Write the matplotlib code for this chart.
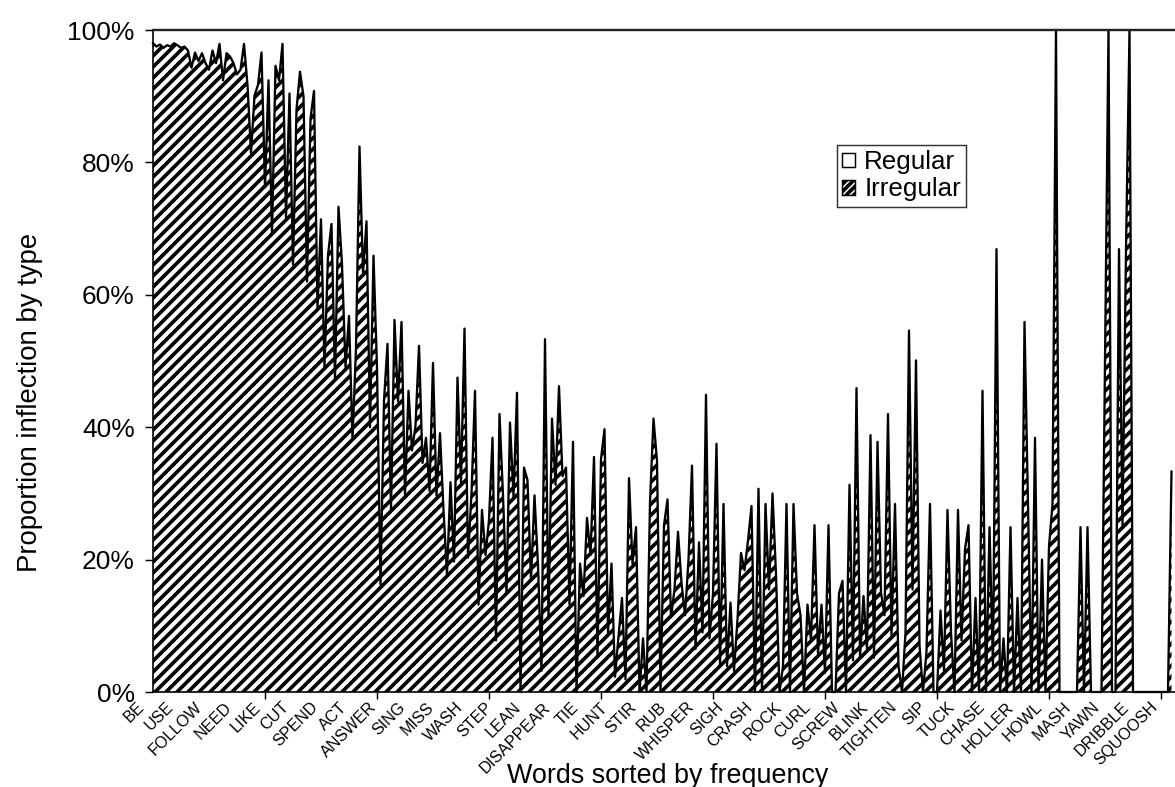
import numpy as np
import matplotlib.pyplot as plt
from matplotlib.patches import Patch
from matplotlib.transforms import ScaledTranslation

plt.rcParams['font.family'] = ['Liberation Sans', 'DejaVu Sans']
plt.rcParams['hatch.color'] = 'black'
plt.rcParams['hatch.linewidth'] = 2.0

DPI = 132
W, H = 1175, 787

# words labelled on the x axis (evenly spread over the frequency list)
labels = ["BE", "USE", "FOLLOW", "NEED", "LIKE", "CUT", "SPEND", "ACT",
          "ANSWER", "SING", "MISS", "WASH", "STEP", "LEAN", "DISAPPEAR",
          "TIE", "HUNT", "STIR", "RUB", "WHISPER", "SIGH", "CRASH", "ROCK",
          "CURL", "SCREW", "BLINK", "TIGHTEN", "SIP", "TUCK", "CHASE",
          "HOLLER", "HOWL", "MASH", "YAWN", "DRIBBLE", "SQUOOSH"]
label_step = 8.275   # words between two labels
tick_step = 32       # words between two tick marks

# proportion of irregular inflection per word (%)
irregular = [
    98.0, 97.5, 97.8, 97.3, 97.7, 97.5, 98.0, 97.7, 97.3, 97.5,
    96.9, 94.3, 96.6, 95.3, 96.5, 95.0, 94.0, 96.9, 95.0, 97.9,
    92.4, 96.5, 96.0, 95.0, 93.3, 94.0, 97.9, 91.7, 81.4, 90.1,
    91.7, 96.6, 76.2, 92.4, 69.1, 94.6, 92.4, 97.9, 71.7, 90.4,
    64.6, 88.0, 93.7, 90.0, 62.0, 86.6, 90.8, 58.1,
    71.4, 49.1, 66.0, 70.7, 47.2, 73.3, 64.6, 49.1, 56.8, 38.1,
    52.0, 82.4, 63.3, 71.1, 40.0, 65.9, 49.0, 16.2, 44.0, 52.6,
    27.5, 56.2, 43.9, 55.9, 29.7, 45.5, 36.5, 40.2, 52.3, 34.6,
    38.4, 30.4, 49.7, 29.7, 39.1, 27.5, 17.8, 31.7, 19.7, 47.5,
    31.7, 54.9, 20.3, 30.0, 45.5, 13.2, 27.5,
    20.7, 26.0, 38.4, 7.8, 42.0, 29.7, 14.9, 40.7, 29.5, 45.2,
    0.0, 33.9, 32.0, 16.8, 29.7, 19.1, 3.2, 53.3, 11.0, 41.3,
    31.3, 46.2, 32.6, 33.9, 13.2, 37.8, 0.0, 19.4, 14.5, 26.3,
    20.7, 35.5, 5.5, 35.2, 39.7, 9.0, 19.4, 2.3, 8.4, 14.2, 1.9, 32.3,
    19.4, 24.9, 0.0, 8.1, 0.0, 28.7, 41.3, 34.9, 0.0, 25.2,
    29.1, 11.3, 15.5, 24.2, 16.5, 11.6, 20.0, 34.2, 6.5, 22.6,
    9.0, 44.9, 8.1, 14.9, 37.5, 3.9, 28.4, 3.9, 13.5, 3.2,
    11.0, 21.0, 18.4, 22.9, 28.1, 0.0, 30.7, 0.0, 28.4, 15.5,
    30.0, 17.8, 0.0, 3.9, 28.4, 0.0, 28.4, 14.9, 11.6, 0.0,
    13.2, 7.8, 25.2, 5.8, 13.2, 2.9, 25.2, 0.0,
    0.0, 14.9, 16.8, 0.0, 31.3, 4.8, 45.9, 5.2, 14.5, 6.5,
    38.8, 5.2, 37.8, 15.0, 11.6, 42.0, 8.4, 28.4, 3.9, 0.0,
    9.0, 54.6, 15.5, 50.1, 7.1, 0.0, 6.1, 28.4, 0.0, 0.0,
    12.3, 3.2, 27.5, 9.0, 0.0, 27.5, 7.8, 21.6, 25.2, 0.0,
    14.2, 0.0, 45.5, 0.0, 24.9, 3.9, 66.9, 0.0, 8.1, 0.0,
    24.9, 0.0, 14.2, 0.0, 55.9, 28.4, 0.0, 38.4, 0.0, 20.0,
    0.0, 22.0, 28.4, 100.0, 0.0, 0.0, 0.0, 0.0, 0.0, 0.0,
    24.9, 0.0, 24.9, 0.0, 0.0, 0.0, 0.0, 50.1, 100.0, 0.0,
    0.0, 66.9, 25.2, 66.9, 100.0, 0.0, 0.0, 0.0, 0.0, 0.0,
    0.0, 0.0, 0.0, 0.0, 0.0, 0.0, 33.3,
]

irr = np.array(irregular)
reg = 100 - irr          # the rest of each word's tokens are regular
x = np.arange(len(irr))

fig = plt.figure(figsize=(W / DPI, H / DPI), dpi=DPI)
ax = fig.add_axes([153 / W, 1 - 692 / H, 1022 / W, 662 / H])

ax.fill_between(x, 0, irr, facecolor='white', edgecolor='black',
                hatch='////', linewidth=0)
ax.fill_between(x, irr, irr + reg, facecolor='white', linewidth=0)
ax.plot(x, irr, color='black', lw=1.25, clip_on=False)

ax.set_xlim(0, 292)
ax.set_ylim(0, 100)

# x axis: word labels and tick marks on their own intervals
ax.set_xticks(np.arange(len(labels)) * label_step)
ax.set_xticklabels(labels, rotation=45, ha='right', va='center',
                   rotation_mode='anchor', fontsize=8.8)
ax.set_xticks(np.arange(0, 292, tick_step), minor=True)
ax.tick_params(axis='x', which='major', length=0, pad=7)
ax.tick_params(axis='x', which='minor', length=4, width=0.8,
               direction='out')
shift = ScaledTranslation(-11 / DPI, 0, fig.dpi_scale_trans)
for lab in ax.get_xticklabels():
    lab.set_transform(lab.get_transform() + shift)

ax.set_yticks([0, 20, 40, 60, 80, 100])
ax.set_yticklabels(['0%', '20%', '40%', '60%', '80%', '100%'], fontsize=14.4)
ax.tick_params(axis='y', length=4.4, width=0.8, pad=5.5)

ax.spines['right'].set_visible(False)
ax.spines['top'].set_color('#222222')
ax.spines['top'].set_linewidth(1.3)
ax.spines['left'].set_linewidth(0.9)
ax.spines['bottom'].set_linewidth(0.9)

fig.text(668 / W, 1 - 776 / H, 'Words sorted by frequency',
         ha='center', va='center', fontsize=14.7)
fig.text(30 / W, 1 - 402 / H, 'Proportion inflection by type',
         rotation=90, ha='center', va='center', fontsize=15)

handles = [Patch(facecolor='white', edgecolor='black', linewidth=0.8,
                 label='Regular'),
           Patch(facecolor='white', edgecolor='black', linewidth=0.8,
                 hatch='//////', label='Irregular')]
leg = ax.legend(handles=handles, loc='upper left',
                bbox_to_anchor=(837 / W, 1 - 145 / H),
                bbox_transform=fig.transFigure, fontsize=14.2,
                fancybox=False, shadow=False, handlelength=0.5,
                handleheight=0.5, handletextpad=0.35, borderpad=0.2,
                labelspacing=0.12, borderaxespad=0)
leg.get_frame().set_edgecolor('black')
leg.get_frame().set_linewidth(0.8)

fig.savefig('out.png', dpi=DPI)
